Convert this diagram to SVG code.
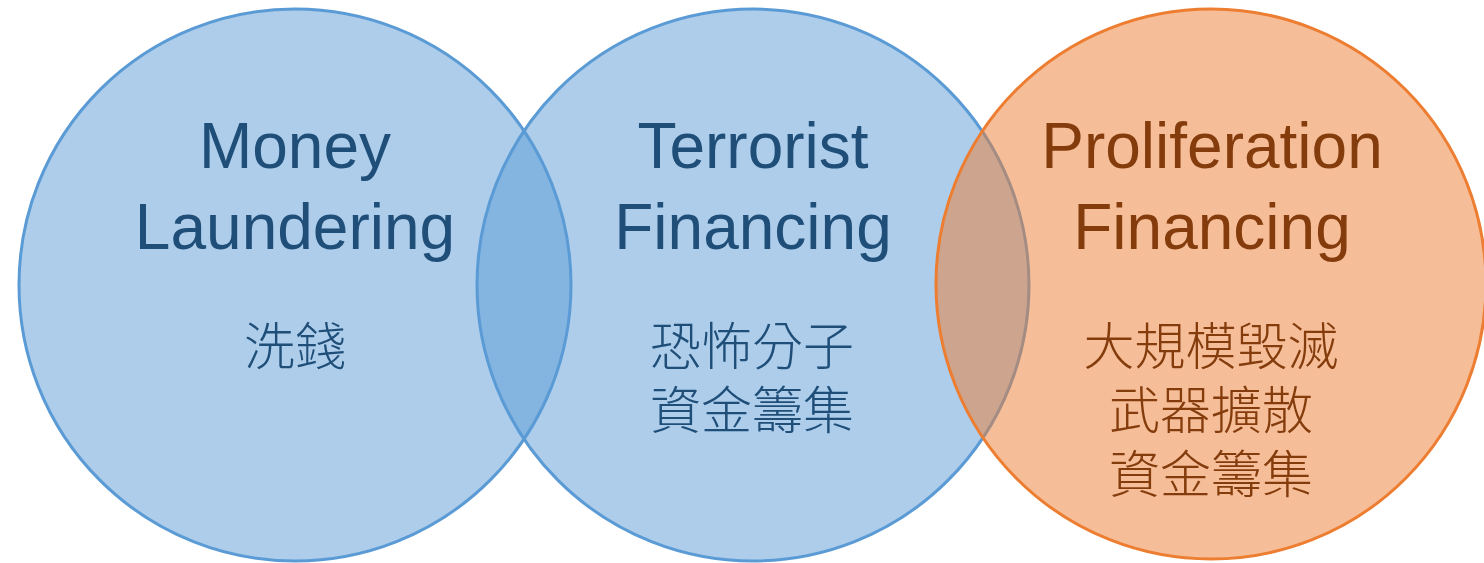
<svg xmlns="http://www.w3.org/2000/svg" width="1484" height="563" viewBox="0 0 1484 563">
<style>
.c{stroke-width:3}
.blue{fill:rgba(91,155,213,0.5);stroke:#5B9BD5}
.orange{fill:rgba(237,125,49,0.5);stroke:#ED7D31}
.en{font-family:"Liberation Sans",Arial,sans-serif;font-size:64px;text-anchor:middle}
.zh{font-family:"Noto Sans CJK TC","Noto Sans CJK SC",sans-serif;font-size:51px;font-weight:300;text-anchor:middle}
.tb{fill:#1F4E79}
.to{fill:#843C0C}
</style>
<rect width="1484" height="563" fill="#FFFFFF"/>
<g id="money-laundering">
<circle class="c blue" cx="295" cy="285" r="276"/>
</g>
<g id="terrorist-financing">
<circle class="c blue" cx="753" cy="285" r="276"/>
</g>
<g id="proliferation-financing">
<circle class="c orange" cx="1211" cy="284" r="275"/>
</g>
<g id="labels">
<text class="en tb" x="295" y="168">Money</text>
<text class="en tb" x="295" y="249">Laundering</text>
<text class="zh tb" x="295" y="365">洗錢</text>
<text class="en tb" x="753" y="168">Terrorist</text>
<text class="en tb" x="753" y="249">Financing</text>
<text class="zh tb" x="752" y="365">恐怖分子</text>
<text class="zh tb" x="752" y="429">資金籌集</text>
<text class="en to" x="1212" y="168">Proliferation</text>
<text class="en to" x="1212" y="249">Financing</text>
<text class="zh to" x="1211" y="365">大規模毀滅</text>
<text class="zh to" x="1211" y="429">武器擴散</text>
<text class="zh to" x="1211" y="493">資金籌集</text>
</g>
<g id="connectors"></g>
</svg>
